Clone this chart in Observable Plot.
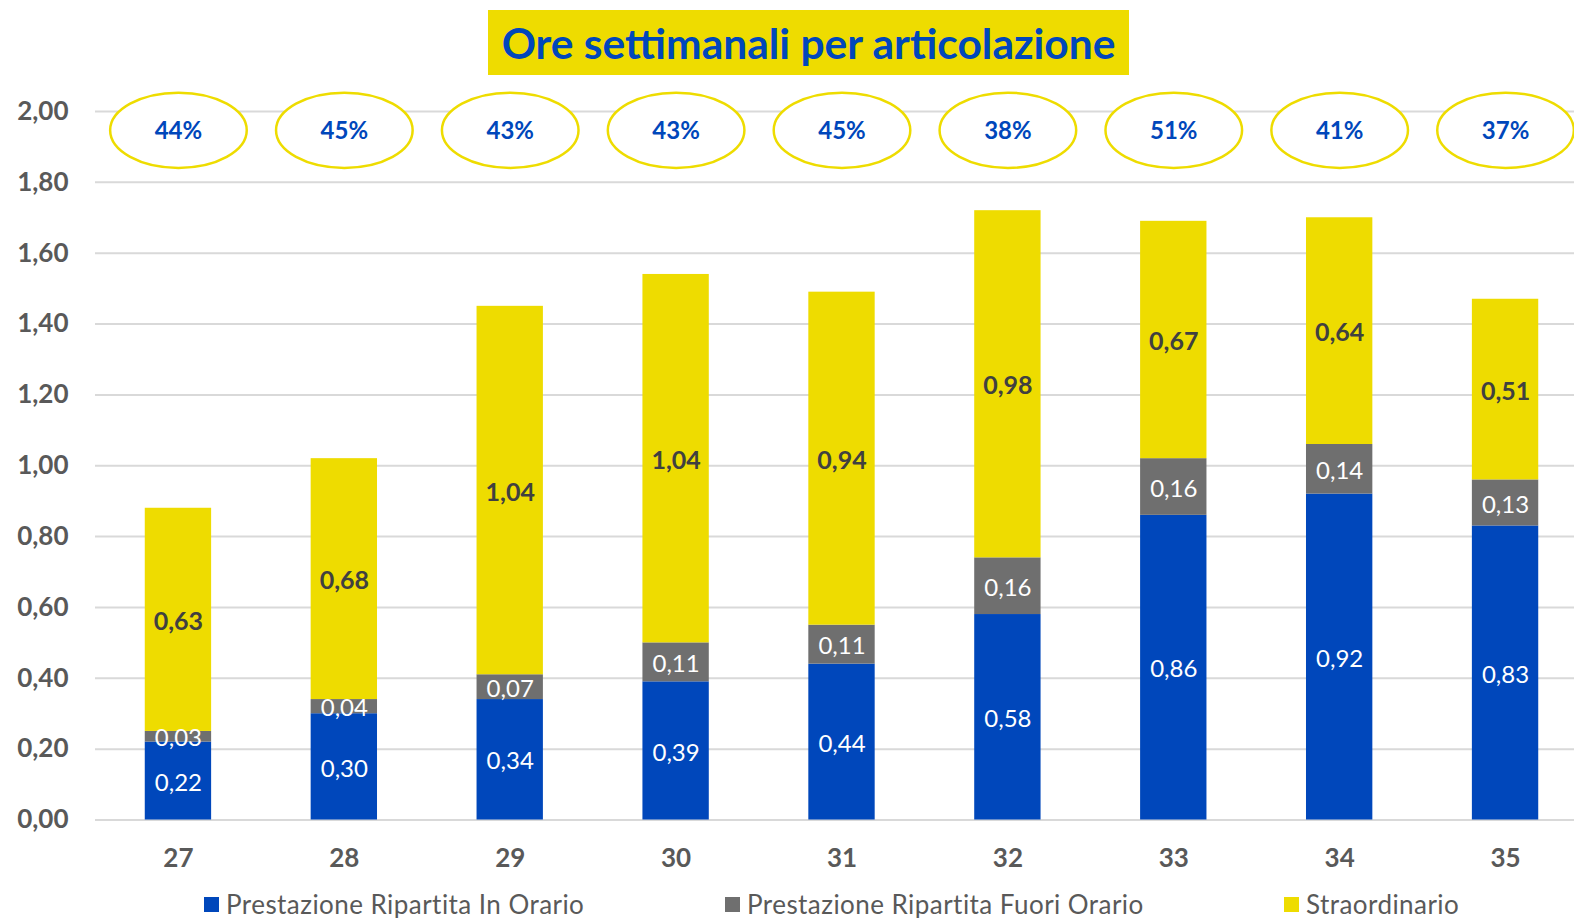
<!DOCTYPE html>
<html>
<head>
<meta charset="utf-8">
<script src="https://cdn.jsdelivr.net/npm/d3@7"></script>
<script src="https://cdn.jsdelivr.net/npm/@observablehq/plot@0.6"></script>
<style>
  html, body { margin: 0; padding: 0; background: #fff; overflow: hidden; }
  body { width: 1574px; height: 918px; position: relative; font-family: Lato, "Open Sans", sans-serif; }
  #title { position: absolute; left: 488px; top: 10px; width: 641px; height: 65px; background: #EEDC00;
    color: #0047BB; font-weight: bold; font-size: 42.5px; display: flex; align-items: center; justify-content: center; }
  #chart { position: absolute; left: 0; top: 85px; width: 1574px; overflow: hidden; }
  #chart svg { max-width: none !important; width: 1588px !important; }
  .leg { position: absolute; top: 888px; font-size: 26px; letter-spacing: 0.45px; color: #595959; display: flex; align-items: center; white-space: nowrap; }
  .leg span.sw { display: inline-block; width: 15px; height: 15px; margin-right: 7px; }
</style>
</head>
<body>
<div id="title">Ore settimanali per articolazione</div>
<div id="chart"></div>
<div id="legend"></div>
<script>
const weeks = ["27", "28", "29", "30", "31", "32", "33", "34", "35"];
const inOrario = [0.22, 0.30, 0.34, 0.39, 0.44, 0.58, 0.86, 0.92, 0.83];
const fuoriOrario = [0.03, 0.04, 0.07, 0.11, 0.11, 0.16, 0.16, 0.14, 0.13];
const straordinario = [0.63, 0.68, 1.04, 1.04, 0.94, 0.98, 0.67, 0.64, 0.51];
const percentuali = ["44%", "45%", "43%", "43%", "45%", "38%", "51%", "41%", "37%"];
const seriesNames = ["Prestazione Ripartita In Orario", "Prestazione Ripartita Fuori Orario", "Straordinario"];
const seriesColors = ["#0047BB", "#6F6F6F", "#EEDC00"];
const yTicks = [0, 0.2, 0.4, 0.6, 0.8, 1.0, 1.2, 1.4, 1.6, 1.8, 2.0];
const ellipseY = 1.947;

const seriesValues = [inOrario, fuoriOrario, straordinario];
const data = [];
seriesNames.forEach((s, si) => {
  weeks.forEach((w, wi) => data.push({week: w, series: s, value: seriesValues[si][wi]}));
});
const pctData = weeks.map((w, i) => ({week: w, pct: percentuali[i]}));
const fmt = v => v.toFixed(2).replace(".", ",");
const isTop = d => d.series === "Straordinario";

const ellipse = {
  draw(ctx) {
    const rx = 68.3, ry = 37.6, k = 0.5523;
    ctx.moveTo(rx, 0);
    ctx.bezierCurveTo(rx, ry * k, rx * k, ry, 0, ry);
    ctx.bezierCurveTo(-rx * k, ry, -rx, ry * k, -rx, 0);
    ctx.bezierCurveTo(-rx, -ry * k, -rx * k, -ry, 0, -ry);
    ctx.bezierCurveTo(rx * k, -ry, rx, -ry * k, rx, 0);
    ctx.closePath();
  }
};

const stackOpts = {x: "week", y: "value", z: "series", order: seriesNames};

const chart = Plot.plot({
  width: 1588,
  height: 795,
  marginLeft: 95,
  marginRight: 0,
  marginTop: 26,
  marginBottom: 60.5,
  style: {"font-family": "Lato, 'Open Sans', sans-serif", "background": "transparent", "max-width": "none"},
  x: {domain: weeks, paddingInner: 0.6, paddingOuter: 0.3, round: false, label: null},
  y: {domain: [0, 2], label: null},
  color: {domain: seriesNames, range: seriesColors},
  marks: [
    Plot.gridY(yTicks, {stroke: "#D9D9D9", strokeOpacity: 1, strokeWidth: 2}),
    Plot.axisY(yTicks, {tickSize: 0, tickPadding: 27, tickFormat: fmt, fontSize: 26, fontWeight: "bold", fill: "#595959"}),
    Plot.axisX({tickSize: 0, tickPadding: 28.5, fontSize: 26, fontWeight: "bold", fill: "#595959"}),
    Plot.barY(data, Plot.stackY({...stackOpts, fill: "series"})),
    Plot.text(data, Plot.stackY({...stackOpts,
      text: d => isTop(d) ? "" : fmt(d.value), fill: "white", fontSize: 24, dy: 2})),
    Plot.text(data, Plot.stackY({...stackOpts,
      text: d => isTop(d) ? fmt(d.value) : "", fill: "#404040", fontSize: 25, fontWeight: "bold", dy: 2})),
    Plot.dot(pctData, {x: "week", y: () => ellipseY, symbol: ellipse, r: 10, fill: "white", stroke: "#EEDC00", strokeWidth: 2.5}),
    Plot.text(pctData, {x: "week", y: () => ellipseY, text: "pct", fill: "#0047BB", fontSize: 24, fontWeight: "bold", dy: 1})
  ]
});
document.getElementById("chart").appendChild(chart);

const legendLefts = [204, 725, 1284];
const legend = document.getElementById("legend");
seriesNames.forEach((s, i) => {
  const d = document.createElement("div");
  d.className = "leg";
  d.style.left = legendLefts[i] + "px";
  d.innerHTML = `<span class="sw" style="background:${seriesColors[i]}"></span>${s}`;
  legend.appendChild(d);
});
</script>
</body>
</html>
